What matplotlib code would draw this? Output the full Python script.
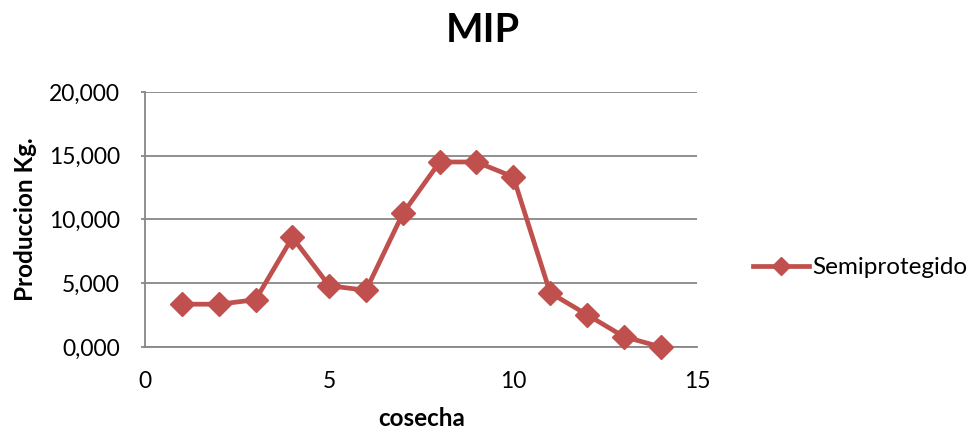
import matplotlib.pyplot as plt
from matplotlib.ticker import FuncFormatter

plt.rcParams['font.family'] = ['Lato', 'DejaVu Sans']

# Produccion por cosecha (kg, coma decimal)
cosecha = [1, 2, 3, 4, 5, 6, 7, 8, 9, 10, 11, 12, 13, 14]
semiprotegido = [3.35, 3.35, 3.70, 8.59, 4.80, 4.44, 10.47,
                 14.51, 14.51, 13.34, 4.25, 2.53, 0.81, 0.0]
yticks = [0, 5, 10, 15, 20]
xticks = [0, 5, 10, 15]

red = '#C0504D'
grid_c = '#878787'

fig = plt.figure(figsize=(9.74, 4.32), dpi=100)
ax = fig.add_axes([0.149, 0.197, 0.567, 0.590])

ax.plot(cosecha, semiprotegido, color=red, lw=3.4, marker='D',
        markersize=12.5, label='Semiprotegido', clip_on=False, zorder=3)

ax.set_xlim(0, 15)
ax.set_ylim(0, 20)
ax.set_xticks(xticks)
ax.set_yticks(yticks)
ax.yaxis.set_major_formatter(
    FuncFormatter(lambda v, p: f"{v:.3f}".replace('.', ',')))

ax.grid(axis='y', color=grid_c, lw=1.3)
ax.set_axisbelow(True)
for s in ['top', 'right']:
    ax.spines[s].set_visible(False)
ax.spines['left'].set_color(grid_c)
ax.spines['left'].set_linewidth(1.3)
ax.spines['bottom'].set_color(grid_c)
ax.spines['bottom'].set_linewidth(1.3)
ax.tick_params(axis='y', length=3, color=grid_c, width=1.3,
               labelsize=16.5, pad=15)
ax.tick_params(axis='x', length=0, labelsize=16.5, pad=17)

ax.set_ylabel('Produccion Kg.', fontsize=17.5, fontweight='bold', labelpad=9)
ax.set_xlabel('cosecha', fontsize=17.5, fontweight='bold', labelpad=11)
fig.suptitle('MIP', fontsize=28.5, fontweight='bold', x=0.496, y=0.972)

ax.legend(loc='center left', bbox_to_anchor=(1.084, 0.31), frameon=False,
          fontsize=17.5, handlelength=2.3, handletextpad=0.1,
          markerscale=0.75, borderaxespad=0)

fig.savefig('out.png', dpi=100)
